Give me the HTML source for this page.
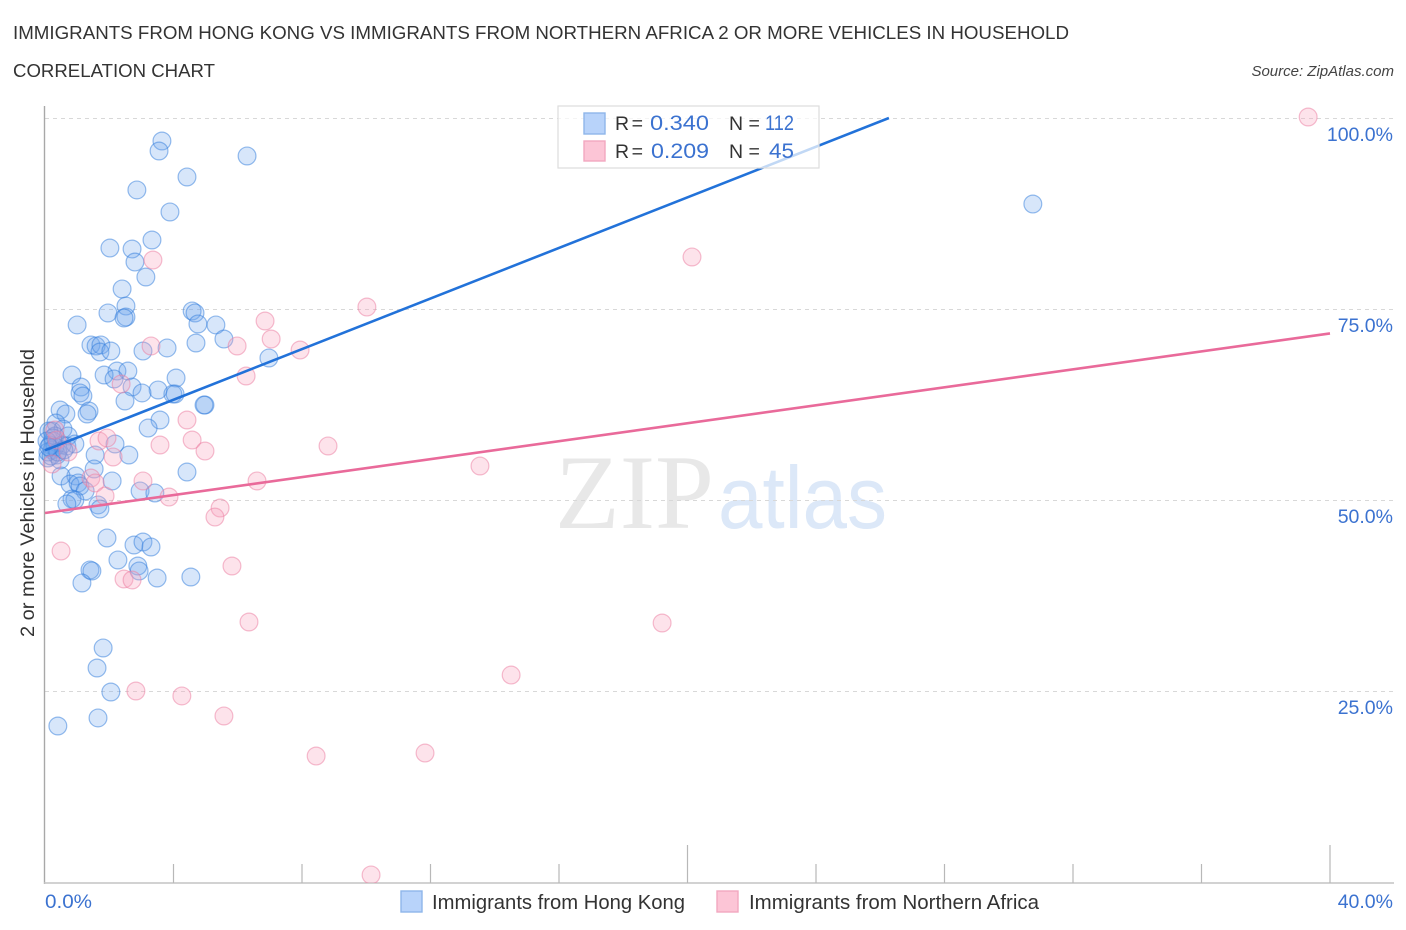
<!DOCTYPE html>
<html lang="en">
<head>
<meta charset="utf-8">
<title>Immigrants from Hong Kong vs Immigrants from Northern Africa correlation chart</title>
<style>
html,body{margin:0;padding:0;background:#fff;}
svg{display:block;font-family:"Liberation Sans",sans-serif;}
</style>
</head>
<body>
<svg id="chart" xmlns="http://www.w3.org/2000/svg" width="1406" height="930" viewBox="0 0 1406 930">
  <defs><clipPath id="plot-clip"><rect x="0" y="100" width="1406" height="783"></rect></clipPath></defs>
  <rect x="0" y="0" width="1406" height="930" fill="#ffffff"></rect>

  <text x="13" y="39" font-size="18.5" fill="#333" textLength="1056" lengthAdjust="spacingAndGlyphs">IMMIGRANTS FROM HONG KONG VS IMMIGRANTS FROM NORTHERN AFRICA 2 OR MORE VEHICLES IN HOUSEHOLD</text>
  <text x="13" y="77" font-size="18.5" fill="#333" textLength="202" lengthAdjust="spacingAndGlyphs">CORRELATION CHART</text>
  <text x="1394" y="76" font-size="15" font-style="italic" fill="#444" text-anchor="end">Source: ZipAtlas.com</text>

  <text x="555" y="528" font-family="'Liberation Serif',serif" font-size="106" fill="#e8e8e8" textLength="159" lengthAdjust="spacingAndGlyphs">ZIP</text>
  <text x="718" y="528" font-size="88" fill="#dce8f8" textLength="169" lengthAdjust="spacingAndGlyphs">atlas</text>

  <g id="grid"></g>
  <g id="axes"></g>
  <g id="blue-points" clip-path="url(#plot-clip)"></g>
  <g id="pink-points" clip-path="url(#plot-clip)"></g>
  <g id="trend-lines"></g>
  <g id="tick-labels"></g>

  <text transform="translate(34,493) rotate(-90)" font-size="19.5" fill="#333" text-anchor="middle" textLength="288" lengthAdjust="spacingAndGlyphs">2 or more Vehicles in Household</text>

  <g>
    <rect x="558" y="106" width="261" height="62" fill="#ffffff" fill-opacity="0.72" stroke="#dddddd" stroke-width="1.2"></rect>
    <rect x="584" y="113" width="21" height="21" fill="#b8d3fa" stroke="#8fb6ea" stroke-width="1.4"></rect>
    <rect x="584" y="141" width="21" height="20" fill="#fcc5d6" stroke="#f2a8c0" stroke-width="1.4"></rect>
    <text x="615" y="130" font-size="19.5" fill="#333" textLength="28" lengthAdjust="spacing">R =</text>
    <text x="650" y="130" font-size="21.5" fill="#3b72d0" textLength="59" lengthAdjust="spacingAndGlyphs">0.340</text>
    <text x="729" y="130" font-size="19.5" fill="#333">N =</text>
    <text x="765" y="130" font-size="21.5" fill="#3b72d0" textLength="29" lengthAdjust="spacingAndGlyphs">112</text>
    <text x="615" y="158" font-size="19.5" fill="#333" textLength="28" lengthAdjust="spacing">R =</text>
    <text x="651" y="158" font-size="21.5" fill="#3b72d0" textLength="58" lengthAdjust="spacingAndGlyphs">0.209</text>
    <text x="729" y="158" font-size="19.5" fill="#333">N =</text>
    <text x="769" y="158" font-size="21.5" fill="#3b72d0" textLength="25" lengthAdjust="spacingAndGlyphs">45</text>
  </g>

  <g>
    <rect x="401" y="891" width="21" height="21" fill="#b8d3fa" stroke="#8fb6ea" stroke-width="1.4"></rect>
    <text x="432" y="909" font-size="20" fill="#333" textLength="253" lengthAdjust="spacingAndGlyphs">Immigrants from Hong Kong</text>
    <rect x="717" y="891" width="21" height="21" fill="#fcc5d6" stroke="#f2a8c0" stroke-width="1.4"></rect>
    <text x="749" y="909" font-size="20" fill="#333" textLength="290" lengthAdjust="spacingAndGlyphs">Immigrants from Northern Africa</text>
  </g>
</svg>

<script>
const yTickValues = [100, 75, 50, 25];
const yTickLabels = ["100.0%", "75.0%", "50.0%", "25.0%"];
const xTickValues = [0, 4, 8, 12, 16, 20, 24, 28, 32, 36, 40];
const xMajorTicks = [20, 40];
const xEndLabels = ["0.0%", "40.0%"];

const hongKongX = [3.64,3.55,6.29,4.42,2.86,3.89,3.33,2.02,2.71,2.80,3.14,2.40,2.52,1.96,4.58,4.67,2.52,2.46,1.00,4.76,5.32,5.57,4.70,1.43,1.59,1.74,1.71,2.05,3.05,3.80,6.97,2.24,2.58,1.84,0.84,2.15,4.08,2.71,1.12,3.52,3.02,1.09,1.18,3.98,4.05,2.49,4.98,4.95,0.47,1.37,1.31,0.65,3.58,3.21,0.34,0.22,0.56,0.72,4.42,2.61,1.56,2.18,1.53,2.09,0.96,0.50,0.78,1.03,1.09,1.25,2.96,3.42,0.84,0.93,0.68,1.65,1.71,1.93,2.77,3.05,3.30,2.27,2.89,2.93,1.40,1.46,1.15,3.49,4.54,1.81,1.62,2.05,1.65,0.40,30.75,0.12,0.31,0.25,0.16,0.22,0.37,0.09,0.53,0.68,0.93,0.25,0.31,0.09,0.19,0.47,0.40,0.06,0.59,0.12];
const hongKongY = [96.99,95.68,95.03,92.28,90.58,87.70,84.03,82.98,82.85,81.15,79.19,77.62,75.39,74.48,74.74,74.48,73.95,73.82,72.91,73.04,72.91,71.07,70.55,70.29,70.16,70.29,69.37,69.50,69.50,69.90,68.59,66.88,66.88,66.36,66.36,65.84,65.97,64.79,64.79,64.40,64.01,64.01,63.61,63.87,63.87,62.96,62.43,62.43,61.78,61.65,61.26,61.26,60.47,59.42,60.08,59.03,59.29,58.38,53.66,55.89,55.89,57.33,54.06,52.49,53.14,53.14,52.09,52.23,51.83,51.18,51.18,50.92,50.13,50.00,49.48,49.35,48.82,45.03,44.11,44.50,43.85,42.15,41.36,40.71,40.84,40.71,39.14,39.79,39.92,30.63,28.01,24.87,21.47,20.42,88.74,59.03,58.38,57.72,57.20,56.54,55.89,55.50,57.20,57.07,57.33,58.12,56.94,56.28,55.76,55.24,56.28,57.72,56.54,56.94];

const northAfricaX = [39.32,20.14,3.36,10.02,6.85,7.04,5.98,3.30,7.94,6.26,2.37,4.42,4.58,4.98,1.68,1.93,2.12,3.58,8.81,13.54,6.60,3.05,1.43,1.56,1.87,3.86,5.45,5.29,0.50,5.82,2.46,2.71,6.35,19.21,14.51,2.83,4.26,5.57,8.44,11.83,10.15,0.37,0.22,0.72,0.31];
const northAfricaY = [100.13,81.81,81.41,75.26,73.43,71.07,70.16,70.16,69.63,66.23,65.18,60.47,57.85,56.41,57.72,58.12,55.63,57.20,57.07,54.45,52.49,52.49,52.88,52.23,50.52,50.39,48.95,47.77,43.32,41.36,39.66,39.53,34.03,33.90,27.09,25.00,24.35,21.73,16.49,16.88,0.92,57.85,54.71,56.28,59.16];

const hongKongTrendX = [0, 26.27];
const hongKongTrendY = [56.5, 100];
const northAfricaTrendX = [0, 40];
const northAfricaTrendY = [48.3, 71.8];

const SVG_NS = "http://www.w3.org/2000/svg";
function xScale(v) { return 45 + v * (1330 - 45) / 40; }
function yScale(v) { return 882 - v * (882 - 118) / 100; }
function make(tag, parentId, attrs, text) {
  const el = document.createElementNS(SVG_NS, tag);
  for (const k in attrs) el.setAttribute(k, attrs[k]);
  if (text !== undefined) el.textContent = text;
  document.getElementById(parentId).appendChild(el);
  return el;
}

yTickValues.forEach(function (v, i) {
  const line = make("line", "grid", {x1: 45, x2: 1393, y1: yScale(v) + 0.5, y2: yScale(v) + 0.5, stroke: "#d8d8d8", "stroke-width": 1, "stroke-dasharray": "4 4"});
  
  
  const label = make("text", "tick-labels", {x: 1393, y: yScale(v) + 23, "font-size": 19.5, fill: "#3b72d0", "text-anchor": "end"}, yTickLabels[i]);
  
  
});

const yAxis = make("line", "axes", {x1: 44.5, x2: 44.5, y1: 106, y2: 884, stroke: "#a8a8a8", "stroke-width": 1.4});


const xAxis = make("line", "axes", {x1: 44, x2: 1394, y1: 883, y2: 883, stroke: "#c4c4c4", "stroke-width": 1.6});



xTickValues.forEach(function (v) {
  if (v === 0) return;
  const top = xMajorTicks.indexOf(v) >= 0 ? 845 : 864;
  const tick = make("line", "axes", {x1: xScale(v), x2: xScale(v), y1: top, y2: 883, stroke: "#b8b8b8", "stroke-width": 1.2});
  
  
});

const xStart = make("text", "tick-labels", {x: 45, y: 908, "font-size": 19.5, fill: "#3b72d0", textLength: 47, lengthAdjust: "spacingAndGlyphs"}, xEndLabels[0]);


const xEnd = make("text", "tick-labels", {x: 1393, y: 908, "font-size": 19.5, fill: "#3b72d0", "text-anchor": "end"}, xEndLabels[1]);



hongKongX.forEach(function (v, i) {
  const c = make("circle", "blue-points", {cx: xScale(v), cy: yScale(hongKongY[i]), r: 8.9, fill: "#6ea6ee", "fill-opacity": 0.28, stroke: "#2f7bdc", "stroke-opacity": 0.5, "stroke-width": 1.2});
  
  
});

northAfricaX.forEach(function (v, i) {
  const c = make("circle", "pink-points", {cx: xScale(v), cy: yScale(northAfricaY[i]), r: 8.9, fill: "#f7a3bd", "fill-opacity": 0.3, stroke: "#ec7ca0", "stroke-opacity": 0.5, "stroke-width": 1.2});
  
  
});

const blueTrend = make("line", "trend-lines", {x1: xScale(hongKongTrendX[0]), y1: yScale(hongKongTrendY[0]), x2: xScale(hongKongTrendX[1]), y2: yScale(hongKongTrendY[1]), stroke: "#2272d9", "stroke-width": 2.6});


const pinkTrend = make("line", "trend-lines", {x1: xScale(northAfricaTrendX[0]), y1: yScale(northAfricaTrendY[0]), x2: xScale(northAfricaTrendX[1]), y2: yScale(northAfricaTrendY[1]), stroke: "#e96a9a", "stroke-width": 2.6});


</script>
</body>
</html>
